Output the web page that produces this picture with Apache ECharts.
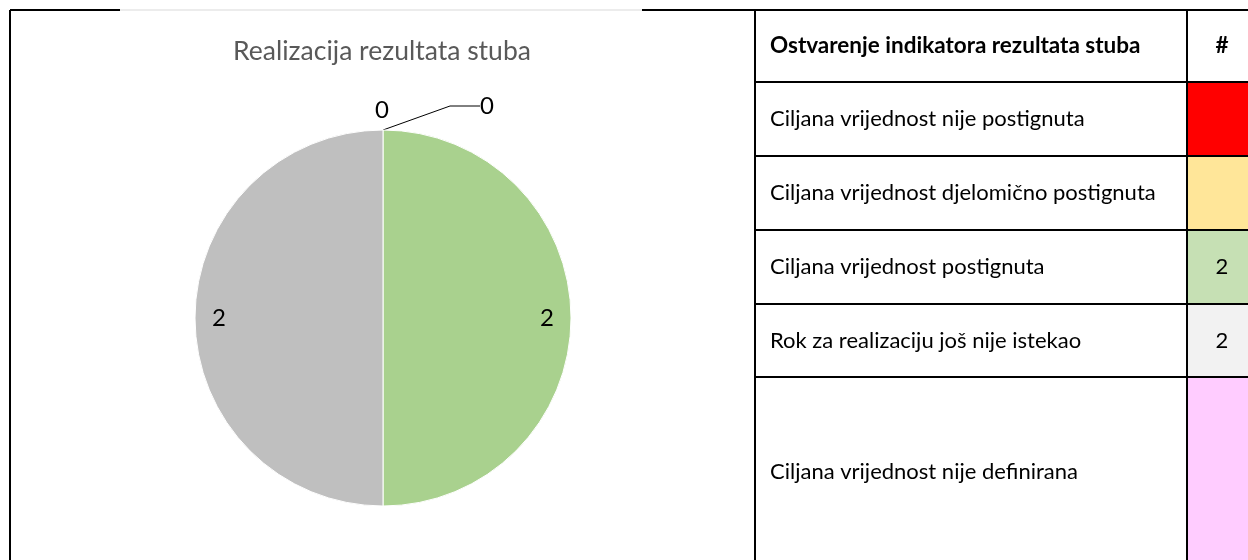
<!DOCTYPE html>
<html>
<head>
<meta charset="utf-8">
<script src="https://cdn.jsdelivr.net/npm/echarts@6/dist/echarts.min.js"></script>
<style>
  html, body { margin: 0; padding: 0; background: #fff; }
  #main { width: 1248px; height: 560px; }
</style>
</head>
<body>
<div id="main"></div>
<script>
  // data
  var chartTitle = 'Realizacija rezultata stuba';
  var tableHeader = ['Ostvarenje indikatora rezultata stuba', '#'];
  var categories = [
    'Ciljana vrijednost nije postignuta',
    'Ciljana vrijednost djelomično postignuta',
    'Ciljana vrijednost postignuta',
    'Rok za realizaciju još nije istekao',
    'Ciljana vrijednost nije definirana'
  ];
  var tableValues = [null, null, 2, 2, null];
  var pieValues = [0, 0, 2, 2];
  var pieColors = ['#FF0000', '#FFC000', '#A9D18E', '#BFBFBF'];
  var cellColors = ['#FF0000', '#FFE699', '#C6E0B4', '#F2F2F2', '#FFCCFF'];

  // layout
  var FONT = 'Lato';
  var CX = 383, CY = 318, R = 188;
  var LABEL_R = 164;
  var tblLeft = 755, tblMid = 1187, tblRight = 1262, numX = 1222;
  var rowEdges = [10, 82, 156, 230, 304, 377, 566];

  var total = pieValues.reduce(function (a, b) { return a + b; }, 0);

  function pieLabelLayout(p) {
    var i = p.dataIndex;
    var v = pieValues[i];
    if (v === 0) {
      // zero slices sit at the top, first label straight above, next one pulled out with a leader line
      var zeroIdx = pieValues.slice(0, i).filter(function (x) { return x === 0; }).length;
      if (zeroIdx === 0) {
        return { x: CX - 1, y: CY - R - 20, align: 'center', verticalAlign: 'middle' };
      }
      return {
        x: CX + 97, y: CY - R - 24, align: 'left', verticalAlign: 'middle',
        labelLinePoints: [[CX, CY - R], [CX + 85, CY - R - 19], [CX + 96, CY - R - 19]]
      };
    }
    var before = pieValues.slice(0, i).reduce(function (a, b) { return a + b; }, 0);
    var ang = -Math.PI / 2 + 2 * Math.PI * (before + v / 2) / total;
    return {
      x: CX + LABEL_R * Math.cos(ang),
      y: CY + LABEL_R * Math.sin(ang),
      align: 'center', verticalAlign: 'middle'
    };
  }

  var pieData = pieValues.map(function (v, i) {
    return {
      name: categories[i],
      value: v,
      itemStyle: { color: pieColors[i] },
      labelLine: { show: v === 0 && i > 0, lineStyle: { color: '#000', width: 1 } }
    };
  });

  function buildTable() {
    var g = [];
    for (var r = 0; r < rowEdges.length - 1; r++) {
      var y0 = rowEdges[r], y1 = rowEdges[r + 1];
      var ym = (y0 + y1) / 2;
      if (r === 0) {
        g.push({ type: 'text', x: tblLeft + 15, y: ym,
          style: { text: tableHeader[0], font: 'bold 22.5px ' + FONT, fill: '#000', textVerticalAlign: 'middle' } });
        g.push({ type: 'text', x: numX, y: ym,
          style: { text: tableHeader[1], font: 'bold 22.5px ' + FONT, fill: '#000', textAlign: 'center', textVerticalAlign: 'middle' } });
      } else {
        var k = r - 1;
        g.push({ type: 'rect', shape: { x: tblMid, y: y0, width: tblRight - tblMid, height: y1 - y0 },
          style: { fill: cellColors[k] } });
        g.push({ type: 'text', x: tblLeft + 15, y: ym,
          style: { text: categories[k], font: '22px ' + FONT, fill: '#000', textVerticalAlign: 'middle' } });
        if (tableValues[k] != null) {
          g.push({ type: 'text', x: numX, y: ym,
            style: { text: String(tableValues[k]), font: '22px ' + FONT, fill: '#000', textAlign: 'center', textVerticalAlign: 'middle' } });
        }
      }
    }
    rowEdges.slice(0, -1).forEach(function (y) {
      g.push({ type: 'line', shape: { x1: tblLeft, y1: y, x2: 1248, y2: y }, style: { stroke: '#000', lineWidth: 2 } });
    });
    [tblLeft, tblMid].forEach(function (x) {
      g.push({ type: 'line', shape: { x1: x, y1: 10, x2: x, y2: 560 }, style: { stroke: '#000', lineWidth: 2 } });
    });
    // frame round the chart part
    g.push({ type: 'line', shape: { x1: 10, y1: 10, x2: 10, y2: 560 }, style: { stroke: '#000', lineWidth: 2 } });
    g.push({ type: 'line', shape: { x1: 10, y1: 10, x2: 120, y2: 10 }, style: { stroke: '#000', lineWidth: 2 } });
    g.push({ type: 'line', shape: { x1: 120, y1: 10, x2: 642, y2: 10 }, style: { stroke: '#d9d9d9', lineWidth: 1 } });
    g.push({ type: 'line', shape: { x1: 642, y1: 10, x2: tblLeft, y2: 10 }, style: { stroke: '#000', lineWidth: 2 } });
    return g;
  }

  var myChart = echarts.init(document.getElementById('main'));
  var option = {
    backgroundColor: '#fff',
    animation: false,
    title: {
      text: chartTitle, left: CX - 6, top: 33, textAlign: 'center',
      textStyle: { color: '#595959', fontSize: 26.5, fontWeight: 'normal', fontFamily: FONT }
    },
    series: [{
      type: 'pie',
      center: [CX, CY],
      radius: R,
      startAngle: 90,
      clockwise: true,
      avoidLabelOverlap: false,
      itemStyle: { borderColor: '#fff', borderWidth: 1 },
      label: { show: true, position: 'inside', formatter: '{c}', color: '#000', fontSize: 24, fontFamily: FONT },
      labelLayout: pieLabelLayout,
      data: pieData
    }],
    graphic: buildTable()
  };
  myChart.setOption(option);
</script>
</body>
</html>
